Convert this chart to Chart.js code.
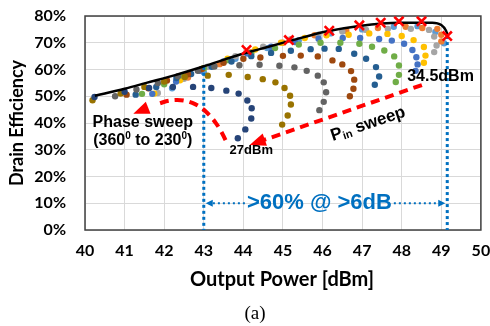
<!DOCTYPE html>
<html>
<head>
<meta charset="utf-8">
<script src="https://cdn.jsdelivr.net/npm/chart.js@4.4.1/dist/chart.umd.min.js"></script>
<style>
  html, body { margin: 0; padding: 0; background: #fff; }
  #wrap { width: 490px; height: 326px; }
</style>
</head>
<body>
<div id="wrap"><canvas id="effChart" width="490" height="326"></canvas></div>
<script>
// Ejes
const xTicks = [40, 41, 42, 43, 44, 45, 46, 47, 48, 49, 50];
const yTicks = [0, 10, 20, 30, 40, 50, 60, 70, 80];

// Barridos de fase (una serie por cada Pin), Pout [dBm] y eficiencia [%]
const arcA_x = [40.24, 41.0, 41.62, 42.22, 42.73, 43.19, 43.57, 43.88, 44.10, 44.21, 44.20, 44.05, 43.86];
const arcA_y = [49.7, 51.7, 53.1, 53.5, 53.5, 53.1, 52.1, 51.0, 48.4, 45.5, 41.7, 37.6, 34.3];
const arcB_x = [40.19, 40.9, 41.5, 42.0, 42.52, 43.1, 43.63, 44.11, 44.49, 44.81, 45.04, 45.18, 45.2, 45.12, 44.98];
const arcB_y = [48.5, 51.0, 53.5, 55.5, 57.2, 57.7, 58.0, 57.2, 56.4, 55.2, 53.1, 50.2, 46.9, 42.8, 39.4];
const arcC_x = [40.76, 41.3, 41.84, 42.35, 42.85, 43.27, 43.9, 44.41, 44.91, 45.29, 45.6, 45.88, 46.03, 46.09, 46.03, 45.92];
const arcC_y = [50.0, 52.5, 55.0, 57.5, 59.5, 61.1, 61.6, 61.8, 61.4, 60.8, 59.5, 57.7, 55.2, 51.5, 47.9, 44.8];
const arcD_x = [41.05, 41.6, 42.07, 42.6, 42.95, 43.5, 44.0, 44.43, 45.0, 45.45, 45.88, 46.25, 46.5, 46.72, 46.8, 46.78, 46.69];
const arcD_y = [50.6, 53.0, 55.9, 58.2, 60.2, 62.5, 64.0, 64.5, 65.1, 65.2, 64.9, 63.4, 61.9, 59.4, 56.2, 52.8, 50.0];
const arcE_x = [41.28, 41.8, 42.31, 42.68, 43.2, 43.7, 44.2, 44.7, 45.2, 45.7, 46.05, 46.41, 46.8, 47.1, 47.35, 47.43, 47.32];
const arcE_y = [50.6, 53.5, 56.8, 58.3, 61.0, 63.0, 65.0, 66.2, 67.0, 67.6, 67.8, 67.7, 65.9, 64.0, 60.9, 57.4, 54.3];
const arcF_x = [41.44, 42.0, 42.5, 43.0, 43.6, 44.2, 44.8, 45.4, 45.95, 46.45, 46.93, 47.25, 47.56, 47.81, 47.93, 47.93, 47.85];
const arcF_y = [50.9, 54.5, 57.5, 60.5, 63.5, 66.0, 68.0, 69.3, 70.0, 70.0, 69.6, 68.5, 67.1, 64.9, 61.5, 58.0, 55.3];
const arcG_x = [41.7, 42.3, 42.9, 43.5, 44.1, 44.7, 45.3, 45.9, 46.51, 46.95, 47.43, 47.75, 48.06, 48.27, 48.37, 48.4, 48.35];
const arcG_y = [50.9, 55.5, 59.5, 63.0, 66.0, 68.5, 70.3, 71.5, 71.8, 71.8, 71.4, 70.8, 69.6, 67.3, 64.6, 61.9, 59.5];
const arcH_x = [41.75, 42.4, 43.0, 43.6, 44.3, 44.95, 45.55, 46.1, 46.66, 47.18, 47.64, 48.0, 48.3, 48.56, 48.6, 48.56];
const arcH_y = [51.0, 56.0, 60.5, 64.0, 67.5, 70.0, 71.8, 72.8, 73.0, 73.5, 73.3, 72.5, 71.0, 68.4, 65.2, 62.5];
const arcI_x = [41.84, 42.5, 43.1, 43.8, 44.5, 45.2, 45.9, 46.5, 47.1, 47.65, 48.23, 48.69, 48.82, 48.88, 48.82];
const arcI_y = [51.2, 56.5, 61.0, 65.0, 68.5, 71.3, 73.0, 74.2, 74.8, 75.2, 75.2, 74.8, 72.3, 69.0, 66.5];
const arcJ_x = [42.6, 43.4, 44.2, 45.0, 45.8, 46.6, 47.4, 48.1, 48.52, 48.9, 49.0, 49.0];
const arcJ_y = [57.0, 62.0, 66.5, 70.0, 72.8, 74.5, 75.5, 76.0, 75.5, 75.2, 73.0, 70.5];
const arcK_x = [42.2, 43.0, 43.8, 44.6, 45.4, 46.2, 47.0, 47.8, 48.4, 48.85, 49.07];
const arcK_y = [53.0, 59.0, 64.0, 68.0, 71.0, 73.5, 75.0, 76.0, 76.2, 74.0, 69.8];

// Envolvente (línea negra)
const envX = [40.25, 41.0, 41.55, 42.3, 42.98, 43.9, 44.41, 45.2, 46.09, 46.93, 47.93, 48.77, 49.0, 49.12, 49.17];
const envY = [50.2, 52.8, 55.0, 58.0, 61.1, 65.5, 67.6, 70.8, 74.2, 76.3, 77.5, 77.5, 76.6, 74.5, 72.5];

// Marcas X rojas (máximo de cada Pin)
const peakX = [44.08, 45.15, 46.17, 46.93, 47.47, 47.93, 48.5, 49.15];
const peakY = [67.3, 71.0, 74.5, 76.5, 77.5, 78.0, 78.0, 72.5];

// Líneas punteadas azules
const vLine1X = [43.0, 43.0];
const vLine1Y = [61.0, 0];
const vLine2X = [49.15, 49.15];
const vLine2Y = [72.5, 0];

// Flechas rojas de anotación
const faseX = [43.55, 43.43, 43.2, 42.9, 42.52, 42.14, 41.84];
const faseY = [33.6, 37.4, 42.2, 46.4, 48.6, 48.6, 47.1];
const faseTip = [41.22, 43.5];
const pinDesde = [48.51, 54.2];
const pinHasta = [44.16, 31.8];

const arcColors = ['#264478', '#997300', '#636363', '#9E480E', '#255E91', '#70AD47',
                   '#4472C4', '#FFC000', '#A5A5A5', '#ED7D31', '#5B9BD5'];
const arcsX = [arcA_x, arcB_x, arcC_x, arcD_x, arcE_x, arcF_x, arcG_x, arcH_x, arcI_x, arcJ_x, arcK_x];
const arcsY = [arcA_y, arcB_y, arcC_y, arcD_y, arcE_y, arcF_y, arcG_y, arcH_y, arcI_y, arcJ_y, arcK_y];

function toPts(xs, ys) {
    return xs.map((v, i) => ({ x: v, y: ys[i] }));
}

const datasets = [];
datasets.push({
    data: toPts(peakX, peakY), showLine: false, order: 0,
    pointStyle: 'crossRot', pointRadius: 6.5, borderColor: '#FF0000', borderWidth: 2.6
});
datasets.push({
    data: toPts(envX, envY), showLine: true, order: 1, borderColor: '#000',
    borderWidth: 2.5, pointRadius: 0, tension: 0.4, cubicInterpolationMode: 'monotone'
});
[[vLine1X, vLine1Y], [vLine2X, vLine2Y]].forEach(l => {
    datasets.push({
        data: toPts(l[0], l[1]), showLine: true, order: 2, borderColor: '#0070C0',
        borderWidth: 3, borderDash: [3, 3], pointRadius: 0
    });
});
arcsX.forEach((xs, i) => {
    datasets.push({
        data: toPts(xs, arcsY[i]), showLine: false, order: 3 + i,
        pointRadius: 3.2, pointBackgroundColor: arcColors[i], borderWidth: 0
    });
});

function arrowHead(ctx, x0, y0, x1, y1, len, wid) {
    const a = Math.atan2(y1 - y0, x1 - x0);
    ctx.save();
    ctx.translate(x1, y1);
    ctx.rotate(a);
    ctx.beginPath();
    ctx.moveTo(0, 0);
    ctx.lineTo(-len, -wid / 2);
    ctx.lineTo(-len, wid / 2);
    ctx.closePath();
    ctx.fill();
    ctx.restore();
}

// Texto con partes en superíndice / subíndice
function drawParts(ctx, parts, x, y, align) {
    let total = 0;
    parts.forEach(p => { ctx.font = p.font; total += ctx.measureText(p.t).width; });
    let cx = align === 'center' ? x - total / 2 : x;
    ctx.textAlign = 'left';
    parts.forEach(p => {
        ctx.font = p.font;
        ctx.fillText(p.t, cx, y + (p.dy || 0));
        cx += ctx.measureText(p.t).width;
    });
}

const anotaciones = {
    id: 'anotaciones',
    beforeDatasetsDraw(chart) {
        const a = chart.chartArea, ctx = chart.ctx;
        ctx.save();
        ctx.strokeStyle = '#404040';
        ctx.lineWidth = 1.5;
        ctx.strokeRect(a.left, a.top, a.right - a.left, a.bottom - a.top);
        ctx.restore();
    },
    afterDatasetsDraw(chart) {
        const ctx = chart.ctx;
        const sx = chart.scales.x, sy = chart.scales.y;
        const px = v => sx.getPixelForValue(v), py = v => sy.getPixelForValue(v);
        ctx.save();

        // Flecha curva de barrido de fase
        ctx.strokeStyle = '#FF0000';
        ctx.fillStyle = '#FF0000';
        ctx.lineWidth = 4;
        ctx.setLineDash([9, 6]);
        ctx.beginPath();
        const fp = faseX.map((v, i) => [px(v), py(faseY[i])]);
        ctx.moveTo(fp[0][0], fp[0][1]);
        for (let i = 1; i < fp.length - 1; i++) {
            const mx = (fp[i][0] + fp[i + 1][0]) / 2, my = (fp[i][1] + fp[i + 1][1]) / 2;
            ctx.quadraticCurveTo(fp[i][0], fp[i][1], mx, my);
        }
        ctx.lineTo(fp[fp.length - 1][0], fp[fp.length - 1][1]);
        ctx.stroke();
        ctx.setLineDash([]);
        const last = fp[fp.length - 1];
        arrowHead(ctx, last[0], last[1], px(faseTip[0]), py(faseTip[1]), 16, 13);

        // Flecha recta de barrido de Pin
        const p0 = [px(pinDesde[0]), py(pinDesde[1])], p1 = [px(pinHasta[0]), py(pinHasta[1])];
        const ang = Math.atan2(p1[1] - p0[1], p1[0] - p0[0]);
        ctx.setLineDash([9, 6]);
        ctx.beginPath();
        ctx.moveTo(p0[0], p0[1]);
        ctx.lineTo(p1[0] - Math.cos(ang) * 12, p1[1] - Math.sin(ang) * 12);
        ctx.stroke();
        ctx.setLineDash([]);
        arrowHead(ctx, p0[0], p0[1], p1[0], p1[1], 16, 13);

        // Textos
        ctx.fillStyle = '#000';
        ctx.textBaseline = 'middle';
        ctx.textAlign = 'center';
        ctx.font = 'bold 16px "Liberation Sans"';
        ctx.fillText('Phase sweep', px(41.46), py(40.1));
        const f = 'bold 16px "Liberation Sans"', fs = 'bold 10px "Liberation Sans"';
        drawParts(ctx, [{ t: '(360', font: f }, { t: '0', font: fs, dy: -5 }, { t: ' to 230', font: f },
                        { t: '0', font: fs, dy: -5 }, { t: ')', font: f }], px(41.46), py(33.3), 'center');
        ctx.textAlign = 'center';
        ctx.font = 'bold 13px "Liberation Sans"';
        ctx.fillText('27dBm', px(44.2), py(29.6));
        ctx.font = 'bold 16px "Liberation Sans"';
        ctx.fillText('34.5dBm', px(48.98), py(57.4));

        ctx.save();
        ctx.translate(px(47.15), py(39.6));
        ctx.rotate(-18.6 * Math.PI / 180);
        drawParts(ctx, [{ t: 'P', font: 'bold 17px "Liberation Sans"' },
                        { t: 'in', font: 'bold 11px "Liberation Sans"', dy: 4 },
                        { t: ' sweep', font: 'bold 17px "Liberation Sans"' }], 0, 0, 'center');
        ctx.restore();

        // Texto azul con flechas punteadas
        ctx.fillStyle = '#0070C0';
        ctx.strokeStyle = '#0070C0';
        ctx.textAlign = 'center';
        ctx.font = 'bold 22px "Liberation Sans"';
        const tx = px(45.92), ty = py(10);
        ctx.fillText('>60% @ >6dB', tx, ty);
        const hw = ctx.measureText('>60% @ >6dB').width / 2;
        ctx.lineWidth = 2;
        ctx.setLineDash([2, 3]);
        ctx.beginPath();
        ctx.moveTo(tx - hw - 2, ty);
        ctx.lineTo(px(43.0) + 6, ty);
        ctx.moveTo(tx + hw + 2, ty);
        ctx.lineTo(px(49.15) - 6, ty);
        ctx.stroke();
        ctx.setLineDash([]);
        arrowHead(ctx, tx - hw, ty, px(43.0) + 2, ty, 7, 7);
        arrowHead(ctx, tx + hw, ty, px(49.15) - 2, ty, 7, 7);
        ctx.restore();
    },
    afterDraw(chart) {
        const ctx = chart.ctx;
        ctx.save();
        ctx.fillStyle = '#000';
        ctx.textAlign = 'center';
        ctx.textBaseline = 'middle';
        ctx.font = 'bold 20px Lato';
        ctx.fillText('Output Power [dBm]', 282, 280);
        ctx.font = '19px "Liberation Serif"';
        ctx.fillText('(a)', 255, 314);
        ctx.translate(17, 123);
        ctx.rotate(-Math.PI / 2);
        ctx.font = 'bold 18px Lato';
        ctx.fillText('Drain Efficiency', 0, 0);
        ctx.restore();
    }
};

Chart.defaults.font.family = 'Lato';
Chart.defaults.color = '#000';

new Chart(document.getElementById('effChart'), {
    type: 'scatter',
    data: { datasets: datasets },
    options: {
        responsive: false,
        animation: false,
        events: [],
        layout: { padding: { left: 0, right: 8, top: 16, bottom: 0 } },
        plugins: { legend: { display: false }, tooltip: { enabled: false } },
        scales: {
            x: {
                type: 'linear', min: 40, max: 50,
                afterBuildTicks: s => { s.ticks = xTicks.map(v => ({ value: v })); },
                afterFit: s => { s.height = 96; s.paddingLeft = 0; s.paddingRight = 0; },
                grid: { color: '#D9D9D9', drawTicks: false },
                border: { display: false },
                ticks: { padding: 11, font: { size: 16, weight: 'bold' } }
            },
            y: {
                type: 'linear', min: 0, max: 80,
                afterBuildTicks: s => { s.ticks = yTicks.map(v => ({ value: v })); },
                afterFit: s => { s.width = 85; s.paddingTop = 0; s.paddingBottom = 0; },
                grid: { color: '#D9D9D9', drawTicks: false },
                border: { display: false },
                ticks: { padding: 19, font: { size: 16, weight: 'bold' }, callback: v => v + '%' }
            }
        }
    },
    plugins: [anotaciones]
});
</script>
</body>
</html>
